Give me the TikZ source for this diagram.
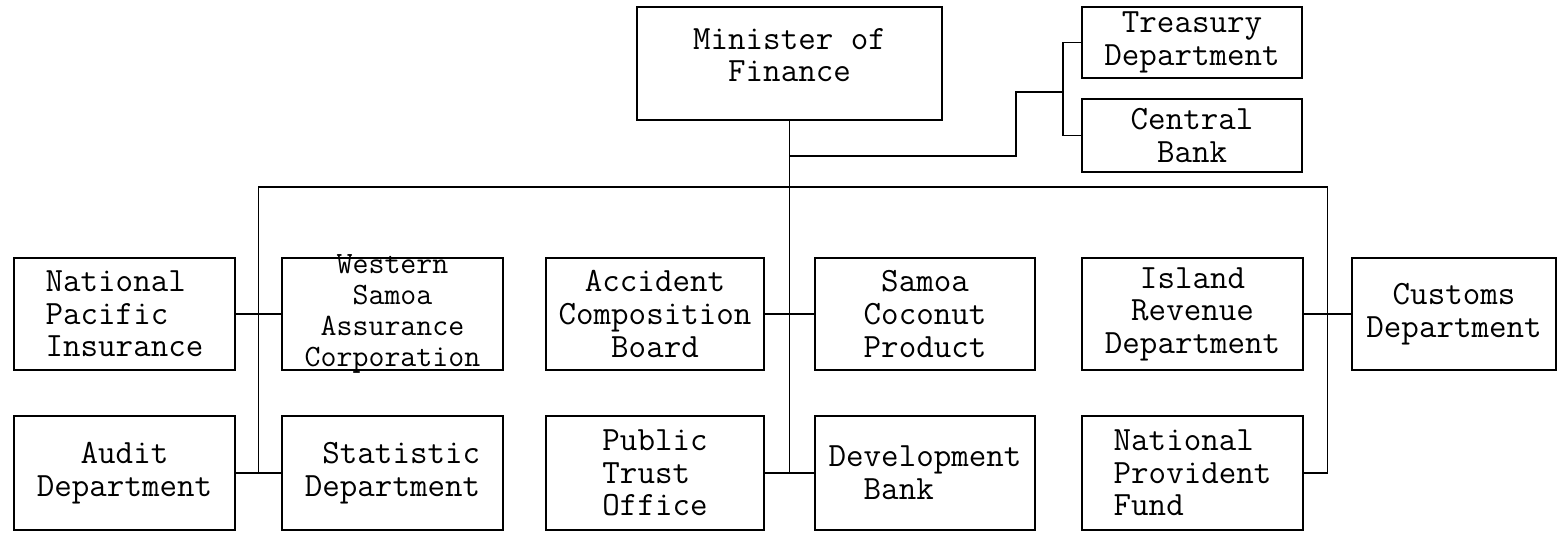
\documentclass[tikz,border=0pt]{standalone}
\usepackage{tikz}
\usetikzlibrary{calc}
\tikzset{
  orgbox/.style={draw, line width=1pt, inner sep=0pt, align=center, font=\ttfamily\fontsize{17}{16.3}\selectfont},
  colbox/.style={orgbox, minimum width=110.5pt, minimum height=56pt},
  orglink/.style={line width=0.8pt},
}

\begin{document}
\begin{tikzpicture}[x=0.5pt, y=-0.5pt]
    \useasboundingbox (0,0) rectangle (1561,533);

    % Minister
    \node[orgbox, minimum width=152.5pt, minimum height=56.5pt] (min) at (789.5,63.5) {Minister of\\Finance\\[-7.8pt]\mbox{}};

    % Attached departments
    \node[orgbox, minimum width=110pt, minimum height=35.5pt] (tre) at (1192,42.5) {Treasury\\Department};
    \node[orgbox, minimum width=110pt, minimum height=36.5pt] (cen) at (1192,135.5) {Central\\Bank};

    % Upper row
    \node[colbox, align=left] (npi) at (124.5,314) {National\\Pacific\\Insurance};
    \node[colbox, inner ysep=-2.5pt, font=\ttfamily\fontsize{15.5}{15.6}\selectfont] (wsac) at (392.5,314) {Western\\Samoa\\Assurance\\Corporation};
    \node[colbox, minimum width=109pt] (acb) at (655,314) {Accident\\Composition\\Board};
    \node[colbox, minimum width=110pt] (scp) at (925,314) {Samoa\\Coconut\\Product};
    \node[colbox] (ird) at (1192.5,314) {Island\\Revenue\\Department};
    \node[colbox, minimum width=102pt] (cus) at (1454,314) {Customs\\Department};

    % Lower row
    \node[colbox, minimum height=57pt] (aud) at (124.5,473) {Audit\\Department};
    \node[colbox, minimum height=57pt, align=right] (stat) at (392.5,473) {Statistic\\Department};
    \node[colbox, minimum height=57pt, minimum width=109pt, align=left] (pto) at (655,473) {Public\\Trust\\Office};
    \node[colbox, minimum height=57pt, minimum width=110pt, align=left] (dev) at (925,473) {Development\\\phantom{De}Bank};
    \node[colbox, minimum height=57pt, align=left] (npf) at (1192.5,473) {National\\Provident\\Fund};

    % Junctions
    \coordinate (bus) at (789.5,187);
    \coordinate (tap) at (789.5,156);
    \coordinate (elbow) at (1016,92);
    \coordinate (brk) at ($(tre.west)+(-18,0)$);
    \coordinate (jl) at ($(aud.east)!0.5!(stat.west)$);
    \coordinate (jm) at ($(pto.east)!0.5!(dev.west)$);
    \coordinate (jr) at ($(ird.east)!0.5!(cus.west)$);

    % Links
    \draw[orglink] (min.south) -- (jm);
    \draw[orglink] (tap) -| (elbow) -- (elbow -| brk);
    \draw[orglink] (tre.west) -- (tre.west -| brk) -- (cen.west -| brk) -- (cen.west);
    \draw[orglink] (jl) -- (jl |- bus) -- (jr |- bus) -- (jr |- npf.east) -- (npf.east);

    \draw[orglink] (npi) -- (wsac);
    \draw[orglink] (acb) -- (scp);
    \draw[orglink] (ird) -- (cus);
    \draw[orglink] (aud) -- (stat);
    \draw[orglink] (pto) -- (dev);
\end{tikzpicture}
\end{document}
